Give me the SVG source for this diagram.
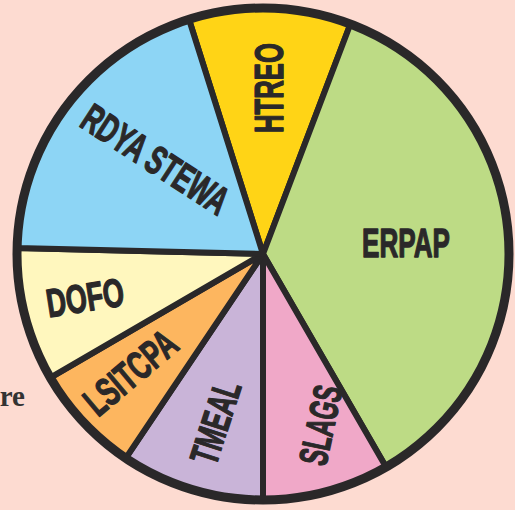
<svg xmlns="http://www.w3.org/2000/svg" width="515" height="510" viewBox="0 0 515 510">
<style>
.sl{stroke:#2a2829;stroke-width:6;stroke-linejoin:round}
.lb{font-family:"Liberation Sans",Arial,sans-serif;font-weight:bold;font-size:40px;fill:#2a2829;stroke:#2a2829;stroke-width:1.3;stroke-linejoin:round;text-anchor:middle}
</style>
<rect width="515" height="510" fill="#fddbd1"/>
<text x="25" y="406" font-family="Liberation Serif,serif" font-weight="bold" font-size="29" fill="#333" text-anchor="end">re</text>
<g id="slices">
<g id="htreo"><path class="sl" fill="#ffd416" d="M263,254 L189.0,19.4 A246,246 0 0 1 350.4,24.0 Z"/>
<text class="lb" transform="translate(268,88) rotate(-90)" x="0" y="14.5" textLength="90" lengthAdjust="spacingAndGlyphs">HTREO</text></g>
<g id="erpap"><path class="sl" fill="#bddb85" d="M263,254 L350.4,24.0 A246,246 0 0 1 386.0,467.0 Z"/>
<text class="lb" x="406" y="257" textLength="88" lengthAdjust="spacingAndGlyphs">ERPAP</text></g>
<g id="slags"><path class="sl" fill="#f0a8c8" d="M263,254 L386.0,467.0 A246,246 0 0 1 263,500 Z"/>
<text class="lb" transform="translate(320,425) rotate(-78)" x="0" y="14.5" textLength="80" lengthAdjust="spacingAndGlyphs">SLAGS</text></g>
<g id="tmeal"><path class="sl" fill="#c9b4d8" d="M263,254 L263,500 A246,246 0 0 1 125.8,458.2 Z"/>
<text class="lb" transform="translate(215,422) rotate(-72)" x="0" y="14.5" textLength="85" lengthAdjust="spacingAndGlyphs">TMEAL</text></g>
<g id="lsitcpa"><path class="sl" fill="#fdb65f" d="M263,254 L125.8,458.2 A246,246 0 0 1 50.4,377.7 Z"/>
<text class="lb" transform="translate(130,372) rotate(-40)" x="0" y="14.5" textLength="108" lengthAdjust="spacingAndGlyphs">LSITCPA</text></g>
<g id="dofo"><path class="sl" fill="#fff7be" d="M263,254 L50.4,377.7 A246,246 0 0 1 17.1,248.0 Z"/>
<text class="lb" transform="translate(85,297) rotate(-9)" x="0" y="14.5" textLength="78" lengthAdjust="spacingAndGlyphs">DOFO</text></g>
<g id="rdya"><path class="sl" fill="#8dd5f5" d="M263,254 L17.1,248.0 A246,246 0 0 1 189.0,19.4 Z"/>
<text class="lb" transform="translate(155,160) rotate(33)" x="0" y="13" font-size="36" textLength="167" lengthAdjust="spacingAndGlyphs">RDYA STEWA</text></g>
</g>
<circle cx="263" cy="254" r="246" fill="none" stroke="#2a2829" stroke-width="9"/>
</svg>
